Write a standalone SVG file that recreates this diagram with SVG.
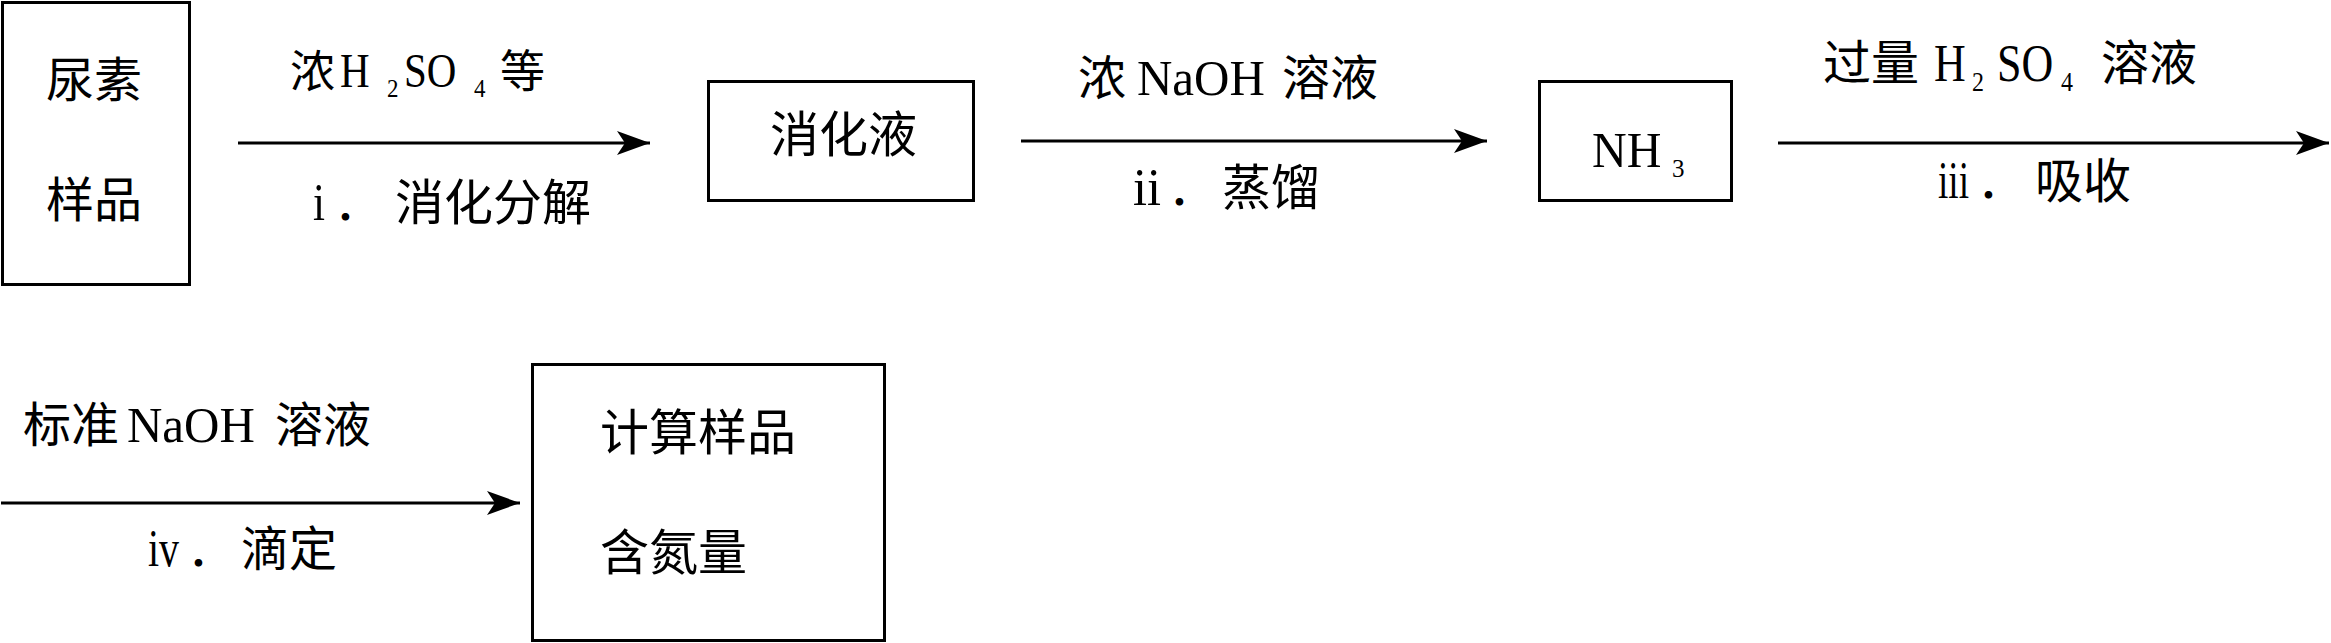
<svg xmlns="http://www.w3.org/2000/svg" width="2331" height="643" viewBox="0 0 2331 643">
<style>
.box{fill:none;stroke:#000;stroke-width:3}
.line{fill:none;stroke:#000;stroke-width:3}
.cjk{font-family:"Noto Sans CJK SC","Liberation Serif",sans-serif;font-size:48px;fill:#000}
.lat{font-family:"Liberation Serif","Noto Sans CJK SC",serif;font-size:48px;fill:#000}
.sub{font-family:"Liberation Serif",serif;font-size:24px;fill:#000}
</style>
<defs>
<marker id="ah" markerUnits="userSpaceOnUse" markerWidth="36" markerHeight="28" viewBox="-34 -14 36 28" refX="0" refY="0" orient="auto">
<path d="M0,0 L-33,-12 L-25,0 L-33,12 Z" fill="#000"/>
</marker>
</defs>
<rect width="2331" height="643" fill="#fff"/>

<g id="node-urea">
<rect class="box" x="2.5" y="2.5" width="187" height="282"/>
<text class="cjk" x="46" y="97">尿素</text>
<text class="cjk" x="46" y="217">样品</text>
</g>

<g id="node-digest">
<rect class="box" x="708.5" y="81.5" width="265" height="119"/>
<text class="cjk" x="770" y="152" style="font-size:49px">消化液</text>
</g>

<g id="node-nh3">
<rect class="box" x="1539.5" y="81.5" width="192" height="119"/>
<text class="lat" transform="translate(1592 167) scale(1 1.06)">NH</text>
<text class="sub" x="1672" y="177" style="font-size:25px">3</text>
</g>

<g id="node-result">
<rect class="box" x="532.5" y="364.5" width="352" height="276"/>
<text class="cjk" x="600" y="450" style="font-size:49px">计算样品</text>
<text class="cjk" x="600" y="570" style="font-size:49px">含氮量</text>
</g>

<g id="connectors">
<line class="line" x1="238" y1="143" x2="650" y2="143" marker-end="url(#ah)"/>
<line class="line" x1="1021" y1="141" x2="1487" y2="141" marker-end="url(#ah)"/>
<line class="line" x1="1778" y1="143" x2="2329" y2="143" marker-end="url(#ah)"/>
<line class="line" x1="1" y1="503" x2="520" y2="503" marker-end="url(#ah)"/>
</g>

<g id="labels">
<g id="label-1">
<text class="cjk" x="290" y="88" style="font-size:45px">浓</text>
<text class="lat" transform="translate(340 87) scale(1 1.2)" style="font-size:41px">H</text>
<text class="sub" transform="translate(387 97) scale(1 1.1)" style="font-size:23px">2</text>
<text class="lat" transform="translate(404 87) scale(1 1.2)" style="font-size:41px">SO</text>
<text class="sub" transform="translate(474 97) scale(1 1.1)" style="font-size:23px">4</text>
<text class="cjk" x="500" y="88" style="font-size:45px">等</text>
<text class="lat" transform="translate(313 220) scale(1 1.12)" textLength="12" lengthAdjust="spacingAndGlyphs">i</text>
<text class="cjk" x="334" y="220">．</text>
<text class="cjk" x="395" y="220" style="font-size:49px">消化分解</text>
</g>
<g id="label-2">
<text class="cjk" x="1078" y="95">浓</text>
<text class="lat" transform="translate(1137 95) scale(1 1.05)" style="font-size:49px">NaOH</text>
<text class="cjk" x="1282" y="95">溶液</text>
<text class="lat" transform="translate(1133 205) scale(1 1.12)" textLength="28" lengthAdjust="spacingAndGlyphs">ii</text>
<text class="cjk" x="1168" y="205">．</text>
<text class="cjk" x="1222" y="205" style="font-size:49px">蒸馏</text>
</g>
<g id="label-3">
<text class="cjk" x="1823" y="80">过量</text>
<text class="lat" transform="translate(1934 81) scale(1 1.18)" style="font-size:44px">H</text>
<text class="sub" transform="translate(1972 91) scale(1 1.1)">2</text>
<text class="lat" transform="translate(1997 81) scale(1 1.18)" style="font-size:44px">SO</text>
<text class="sub" transform="translate(2061 91) scale(1 1.1)">4</text>
<text class="cjk" x="2101" y="80">溶液</text>
<text class="lat" transform="translate(1938 198) scale(1 1.12)" textLength="31" lengthAdjust="spacingAndGlyphs">iii</text>
<text class="cjk" x="1977" y="198">．</text>
<text class="cjk" x="2035" y="198">吸收</text>
</g>
<g id="label-4">
<text class="cjk" x="23" y="442">标准</text>
<text class="lat" transform="translate(127 442) scale(1 1.05)" style="font-size:49px">NaOH</text>
<text class="cjk" x="275" y="442">溶液</text>
<text class="lat" transform="translate(148 566) scale(1 1.12)" textLength="31" lengthAdjust="spacingAndGlyphs">iv</text>
<text class="cjk" x="187" y="566">．</text>
<text class="cjk" x="241" y="566">滴定</text>
</g>
</g>
</svg>
